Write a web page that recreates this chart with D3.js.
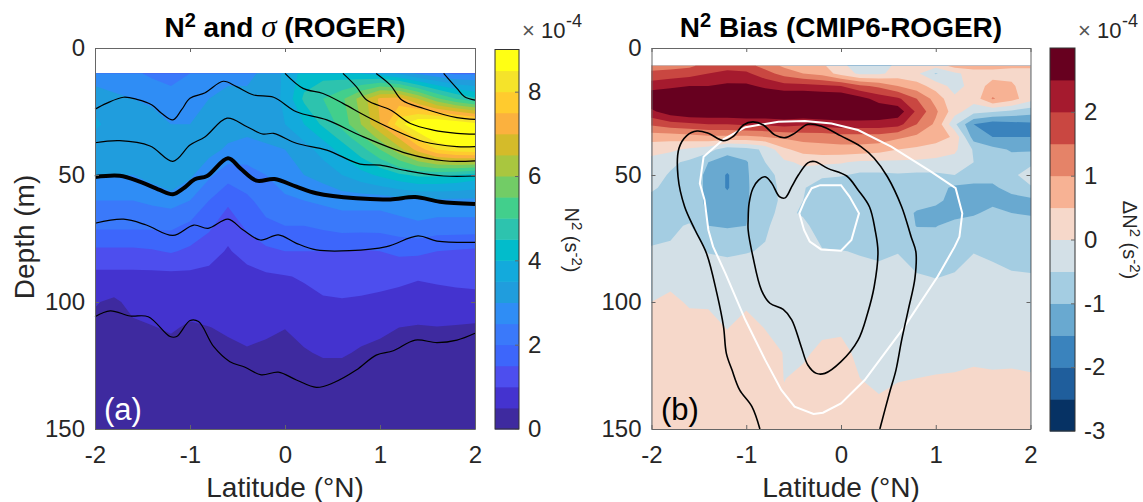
<!DOCTYPE html>
<html lang="en">
<head>
  <meta charset="UTF-8">
  <title>N2 and N2 bias (ROGER, CMIP6)</title>
  <script src="https://d3js.org/d3.v7.min.js"></script>
  <style>
    html, body { margin: 0; padding: 0; background: #fff; }
    svg { display: block; }
    text { font-family: "Liberation Sans", Arial, sans-serif; fill: #262626; }
    .axis path, .axis line { stroke: #666; stroke-width: 1; }
    .axis text { font-size: 24px; fill: #262626; font-family: "Liberation Sans", Arial, sans-serif; }
    .title { font-size: 28px; font-weight: bold; fill: #000; }
    .label { font-size: 28px; }
  </style>
</head>
<body>
  <script>
    // Grid columns, degrees north
    const lats = d3.range(21).map(i => -2 + i * 0.2);

    // N2 (1e-4 s-2), ROGER, one row per depth
    const depthsA = [10, 20, 30, 35, 40, 50, 60, 70, 80, 90, 100, 110, 120, 130, 140, 150];
    const n2Rows = [
      [2.7,2.7,2.6,2.4,2.3,2.5,2.8,2.9,2.9,3.1,3.6,4.2,4.3,4.2,4.0,3.8,3.4,2.9,2.6,2.4,2.4],
      [3.3,3.1,3.0,2.9,2.7,2.8,3.0,3.1,3.1,3.2,3.6,4.6,5.0,5.4,6.2,7.1,7.2,6.5,5.6,5.0,4.6],
      [3.6,3.3,3.2,3.2,3.0,3.0,3.2,3.2,3.2,3.3,3.5,4.0,4.6,5.2,6.0,7.0,8.3,9.0,9.2,9.0,8.7],
      [3.4,3.3,3.3,3.3,3.2,3.2,3.3,3.1,3.0,3.1,3.2,3.6,4.1,4.7,5.4,6.2,7.1,8.2,8.9,9.2,9.2],
      [3.2,3.2,3.3,3.2,3.3,3.2,3.2,2.9,2.8,2.9,3.0,3.3,3.7,4.2,4.8,5.5,6.3,7.2,8.0,8.3,8.4],
      [3.0,3.0,3.0,3.2,3.5,3.1,2.6,2.2,2.3,2.5,2.8,3.0,3.2,3.5,3.8,4.1,4.4,4.6,4.6,4.5,4.3],
      [2.5,2.5,2.5,2.6,2.7,2.5,2.0,1.6,1.9,2.2,2.4,2.5,2.6,2.7,2.7,2.7,2.8,2.9,2.9,2.9,2.9],
      [2.1,2.1,2.1,2.1,2.1,1.9,1.6,1.2,1.6,1.9,2.0,2.0,2.1,2.2,2.2,2.2,2.3,2.4,2.3,2.3,2.3],
      [1.4,1.4,1.4,1.45,1.55,1.4,1.2,0.95,1.2,1.4,1.5,1.5,1.5,1.5,1.45,1.5,1.6,1.6,1.5,1.45,1.4],
      [.85,.85,.85,.85,.85,.87,.85,.72,.82,.92,.97,1.05,1.2,1.3,1.3,1.25,1.15,1.05,1.1,1.15,1.2],
      [.53,.42,.63,.71,.75,.69,.74,.70,.78,.78,.74,.85,.93,.95,.90,.83,.78,.75,.78,.80,.80],
      [.4,.36,.42,.48,.55,.44,.49,.56,.62,.57,.51,.64,.74,.75,.65,.58,.5,.47,.49,.47,.44],
      [.3,.3,.3,.32,.35,.32,.35,.4,.46,.42,.38,.46,.55,.55,.45,.4,.35,.34,.34,.34,.32],
      [.25,.25,.25,.25,.25,.25,.25,.25,.25,.25,.25,.25,.3,.3,.25,.25,.25,.25,.25,.25,.25],
      [.2,.2,.2,.2,.2,.2,.2,.2,.2,.2,.2,.2,.2,.2,.2,.2,.2,.2,.2,.2,.2],
      [.15,.15,.15,.15,.15,.15,.15,.15,.15,.15,.15,.15,.15,.15,.15,.15,.15,.15,.15,.15,.15]
    ];
    const n2Levels = d3.range(18).map(i => i * 0.5);
    const n2Colors = ["#3e2a9f","#4433cf","#4d4eee","#3d66fb","#3a79fa","#2f8df5","#209ddd","#13aadc","#02bccb",
                      "#2dc3ae","#42cf8c","#72cc66","#a9c63f","#d4bb2a","#fbb13e","#ffcb2e","#f5e32a","#ffff14"];

    // N2 bias (1e-4 s-2), CMIP6 minus ROGER
    const depthsB = [7, 10, 15, 20, 25, 30, 35, 40, 45, 50, 55, 60, 65, 70, 80, 90, 100, 110, 120, 130, 140, 150];
    const biasRows = [
      [1.3,1.3,1.4,1.7,1.8,1.7,1.3,.9,.8,.6,.1,-.2,-.2,.1,.2,.2,.7,.8,.7,.6,.6],
      [1.6,1.7,1.8,2.0,2.15,2.1,1.7,1.3,1.0,.8,.3,-.1,-.1,.2,.1,-.55,-.1,.2,.3,.3,.3],
      [2.3,2.4,2.5,2.5,2.6,2.6,2.4,2.2,2.2,2.1,2.0,1.6,1.4,1.0,.7,.3,-.2,.2,.7,.6,.1],
      [2.9,3,3,3,3,3,3,3,3,3,3,2.7,2.3,2.1,1.5,.8,.1,.2,1.05,.7,.2],
      [2.4,2.8,3,3,3,3,3,3,3,3,3,3,2.9,2.8,1.9,1.1,.2,-.3,-.45,-.6,-.8],
      [1.6,1.8,1.9,2,2,2.1,2.1,2.2,2.1,2.2,2.3,2.3,2.3,2.2,1.5,.9,-.4,-1.5,-1.8,-1.7,-1.6],
      [.7,.7,.8,.9,.9,.9,1.0,1.1,1.2,1.2,1.3,1.3,1.3,1.1,.9,.8,.4,-1.25,-1.5,-1.5,-1.5],
      [.2,.1,-.1,-.3,-.8,-.7,-.4,.4,.7,.8,.8,.8,.7,.5,.4,.2,.1,-.55,-.85,-1.05,-1.05],
      [-.2,-.4,-.6,-1.0,-1.25,-1.05,-.5,-.1,.1,.1,.05,-.1,-.1,-.1,-.1,-.1,-.2,-.5,-.6,-.8,-.7],
      [-.3,-.55,-.75,-1.1,-1.55,-1.05,-.7,-.3,-.2,-.4,-.45,-.6,-.6,-.55,-.6,-.6,-.5,-.6,-.8,-.7,-.1],
      [-.4,-.7,-.75,-1.1,-1.55,-1.05,-.75,-.35,-.45,-.8,-.85,-.7,-.7,-.7,-.7,-.8,-1.1,-1.2,-1.1,-.8,-.6],
      [-.7,-.75,-.75,-1.1,-1.3,-1.05,-.7,-.4,-.5,-.8,-.85,-.7,-.65,-.7,-.8,-.9,-1.15,-1.1,-1.1,-1.2,-1.1],
      [-.7,-.7,-.7,-1.05,-1.25,-1.05,-.6,-.4,-.55,-.8,-.85,-.7,-.65,-.75,-1.05,-1.15,-1.15,-1.05,-.9,-1.0,-1.05],
      [-.65,-.6,-.45,-1.0,-1.05,-1.0,-.55,-.35,-.4,-.7,-.75,-.65,-.6,-.7,-1.02,-1.02,-.85,-.8,-.75,-.8,-.8],
      [-.46,-.43,-.32,-.52,-.54,-.52,-.47,-.3,-.44,-.47,-.49,-.52,-.54,-.51,-.62,-.66,-.6,-.51,-.55,-.6,-.62],
      [-.23,-.14,-.18,-.3,-.37,-.31,-.31,-.25,-.35,-.34,-.34,-.41,-.44,-.41,-.48,-.51,-.48,-.4,-.43,-.47,-.48],
      [0,.1,-.05,-.06,-.2,-.1,-.15,-.15,-.25,-.2,-.2,-.3,-.35,-.3,-.36,-.38,-.35,-.28,-.3,-.35,-.35],
      [.2,.3,.15,.15,-.02,.2,-.02,-.08,-.15,-.08,-.07,-.2,-.25,-.2,-.25,-.25,-.22,-.18,-.2,-.22,-.22],
      [.4,.4,.35,.3,.2,.3,.2,-.02,-.06,.08,.12,-.1,-.16,-.12,-.12,-.12,-.1,-.06,-.08,-.08,-.1],
      [.4,.4,.4,.4,.35,.4,.3,-.01,.08,.2,.25,0,-.05,-.02,0,.02,.03,.05,.04,.05,.03],
      [.4,.4,.4,.4,.4,.4,.4,.05,.2,.3,.3,.1,.03,.1,.1,.1,.1,.15,.12,.12,.12],
      [.4,.4,.4,.4,.4,.4,.4,.3,.3,.3,.3,.3,.3,.3,.3,.3,.3,.3,.3,.3,.3]
    ];
    const biasLevels = d3.range(12).map(i => -3 + i * 0.5);
    const biasColors = ["#063264","#1f5e9c","#3a83bd","#69a9d0","#a4cde2","#d3e0e7",
                        "#f6d8ca","#f7b294","#e58368","#c94741","#a51a2e","#67001f"];

    // Density contours on panel (a)
    const sigmaLines = [
      { width: 1.2, lat: [-2,-1.88,-1.7,-1.56,-1.4,-1.3,-1.18,-1.09,-1,-.84,-.65,-.51,-.33,-.12,.12,.44,.82,1.28,1.67,2],
        depth: [24.1,21.8,19.4,20.2,22.4,25.7,28.3,24.4,19.8,17.6,13.1,15.2,18.5,19.4,25.1,28.3,34.9,41.5,44.4,44.4] },
      { width: 1.2, lat: [0,.19,.4,.61,.86,1.11,1.46,1.81,2],
        depth: [10,15.9,17.9,21.8,27,31.6,36.9,38.8,38.8] },
      { width: 1.2, lat: [-2,-1.74,-1.42,-1.18,-1,-.84,-.61,-.4,-.23,-.12,.12,.44,.79,1,1.28,1.67,2],
        depth: [37.3,36.5,38.6,44.6,38.2,34.9,27.6,31,33.9,33.6,37.5,40.2,45.7,46.1,48.3,50.4,50.4] },
      { width: 1.2, lat: [.61,.75,.86,1.11,1.32,1.56,1.81,2],
        depth: [10,15.2,20.5,24.4,29.7,32.3,33.6,33.9] },
      { width: 1.2, lat: [.96,1.11,1.23,1.46,1.81,2],
        depth: [10,14.6,20.5,23.8,27.4,28.1] },
      { width: 1.2, lat: [1.67,1.81,1.89,2],
        depth: [10,15.9,19.2,20.5] },
      { width: 4, lat: [-2,-1.74,-1.53,-1.32,-1.18,-1.07,-.95,-.82,-.6,-.47,-.3,-.11,.12,.33,.75,1.11,1.37,1.63,2],
        depth: [50.8,50.3,52.6,55.9,57.6,55.3,51.7,50.4,43.4,47.4,52.2,51.6,54.6,57.2,59.2,59.6,58.7,60.5,61.4] },
      { width: 1.2, lat: [-2,-1.7,-1.46,-1.18,-.96,-.81,-.6,-.44,-.26,-.07,.12,.33,.68,1.07,1.4,1.6,2],
        depth: [69,67.4,69.7,73.8,69.7,71,67.4,71.7,75.6,73.6,76.9,79.5,79.8,78.2,74,76,76.5] },
      { width: 1.2, lat: [-2,-1.84,-1.63,-1.44,-1.21,-1.14,-1,-.91,-.75,-.58,-.42,-.25,-.07,.12,.33,.51,.75,.96,1.14,1.37,1.6,1.81,2],
        depth: [105.8,103.5,105.5,105.8,113.6,113.6,107.3,107.7,117.6,123.5,125.7,128.7,127.6,130.7,133.6,131.8,126.8,120.9,119.2,115,116,115,112.3] }
    ];

    // Black and white contours on panel (b)
    const blackOuterLat = [-.856,-.94,-1.07,-1.15,-1.21,-1.24,-1.31,-1.42,-1.54,-1.65,-1.72,-1.71,-1.63,-1.52,-1.4,-1.24,-1.14,-1.03,-.93,-.82,-.7,-.59,-.49,-.35,-.21,0,.21,.35,.49,.64,.74,.79,.78,.71,.64,.58,.51,.41];
    const blackOuterDepth = [150,141.2,134.6,126.8,120.2,109.7,96.6,80.8,71.65,62.5,50.7,39.5,34.6,32.7,33.6,36.5,34.9,30.3,29.1,30.3,34.2,35.3,33.6,30,30.7,34.6,38.8,43.4,50.7,62.5,74.3,80.2,90.7,103.1,115,126.8,136,150];
    const blackInnerLat = [-.97,-.93,-.87,-.8,-.73,-.65,-.59,-.52,-.45,-.35,-.28,-.14,.06,.18,.3,.36,.39,.35,.28,.18,0,-.17,-.26,-.35,-.42,-.52,-.61,-.75,-.84,-.93,-.98,-.98];
    const blackInnerDepth = [61.2,55.3,52,50.7,53.3,58.5,59,54.6,50,45.2,44.7,47.4,50.4,55.9,62.5,71.65,80.2,94,104.5,115,123.5,128.1,128.1,124.8,117.6,107,102.9,100.5,95.3,82.1,71.65,67.7];
    const whiteOuterLat = [-1.25,-1.01,-.66,-.38,-.1,.18,.53,.95,1.21,1.28,1.25,1.2,1.02,.67,.25,0,-.19,-.29,-.49,-.63,-.8,-1.01,-1.22,-1.35,-1.4,-1.44,-1.49,-1.45];
    const whiteOuterDepth = [36.2,31.2,29,28.7,29.7,32.3,38.8,48.7,55.2,65.1,74.3,78.2,90,109.7,130.7,139.9,143.6,144.1,141.2,134.6,122.8,107,88.7,78.2,71.65,59.8,53.3,42.8];
    const whiteInnerLat = [-.31,-.22,0,.09,.19,.14,.11,0,-.21,-.33,-.39,-.44,-.38];
    const whiteInnerDepth = [55.2,54,54,58.5,65.1,71.65,75.6,79.8,79.3,76.2,71.65,65.1,59.8];

    const depthTicks = [0, 50, 100, 150];
    const latTicks = [-2, -1, 0, 1, 2];

    const width = 1143;
    const height = 502;
    const svg = d3.select("body").append("svg")
      .attr("width", width)
      .attr("height", height);

    // Draws filled contours, returns the scales
    function drawPanel(box, depths, rows, levels, colors) {
      const x = d3.scaleLinear().domain([-2, 2]).range([box.left, box.right]);
      const y = d3.scaleLinear().domain([0, 150]).range([box.top, box.bottom]);
      const g = svg.append("g");

      // d3.contours puts sample i at i + 0.5, map that back to latitude and depth
      const colIndex = d3.scaleLinear().domain(lats.map((d, i) => i + 0.5)).range(lats).clamp(true);
      const rowIndex = d3.scaleLinear().domain(depths.map((d, i) => i + 0.5)).range(depths).clamp(true);
      const path = d3.geoPath(d3.geoTransform({
        point(px, py) { this.stream.point(x(colIndex(px)), y(rowIndex(py))); }
      }));

      const contours = d3.contours()
        .size([lats.length, depths.length])
        .smooth(true)
        .thresholds(levels)(rows.flat());

      // lowest band is everything that is left
      g.append("rect")
        .attr("x", x(-2)).attr("y", y(depths[0]))
        .attr("width", x(2) - x(-2)).attr("height", y(150) - y(depths[0]))
        .attr("fill", colors[0]);

      g.selectAll("path.fill")
        .data(contours.slice(1))
        .enter().append("path")
        .attr("class", "fill")
        .attr("d", path)
        .attr("fill", (d, i) => colors[i + 1]);

      return { x, y };
    }

    function drawAxes(box, x, y) {
      const g = svg.append("g");
      g.append("g").attr("class", "axis").attr("transform", `translate(0,${box.bottom})`)
        .call(d3.axisBottom(x).tickValues(latTicks).tickFormat(d => String(d)).tickSizeInner(-4).tickSizeOuter(0).tickPadding(17));
      g.append("g").attr("class", "axis").attr("transform", `translate(0,${box.top})`)
        .call(d3.axisTop(x).tickValues(latTicks).tickFormat("").tickSizeInner(-4).tickSizeOuter(0));
      g.append("g").attr("class", "axis").attr("transform", `translate(${box.left},0)`)
        .call(d3.axisLeft(y).tickValues(depthTicks).tickSizeInner(-4).tickSizeOuter(0).tickPadding(10));
      g.append("g").attr("class", "axis").attr("transform", `translate(${box.right},0)`)
        .call(d3.axisRight(y).tickValues(depthTicks).tickFormat("").tickSizeInner(-4).tickSizeOuter(0));
      g.selectAll(".domain").attr("stroke", "#777").attr("stroke-width", 1.5);
    }

    function drawColorbar(cb, levels, colors, step, ticks) {
      const c = d3.scaleLinear().domain([levels[0], levels[levels.length - 1] + step]).range([cb.bottom, cb.top]);
      svg.append("g").selectAll("rect")
        .data(levels)
        .enter().append("rect")
        .attr("x", cb.left)
        .attr("y", d => c(d + step))
        .attr("width", cb.right - cb.left)
        .attr("height", d => c(d) - c(d + step) + 0.5)
        .attr("fill", (d, i) => colors[i]);
      svg.append("rect")
        .attr("x", cb.left).attr("y", cb.top)
        .attr("width", cb.right - cb.left).attr("height", cb.bottom - cb.top)
        .attr("fill", "none").attr("stroke", "#333").attr("stroke-width", 1);
      svg.append("g").attr("class", "axis").attr("transform", `translate(${cb.right},0)`)
        .call(d3.axisRight(c).tickValues(ticks).tickFormat(d => String(d)).tickSizeInner(-4).tickSizeOuter(0).tickPadding(9))
        .select(".domain").remove();

      // x10^-4 above the bar
      const mult = svg.append("text").attr("y", 38).style("font-size", "22px");
      mult.append("tspan").text("\u00d7").attr("x", cb.right + 3).style("fill", "#555");
      mult.append("tspan").text("10").attr("x", cb.right + 22);
      mult.append("tspan").text("-4").attr("x", cb.right + 47).attr("dy", -11).style("font-size", "18px");
    }

    function linePath(x, y, curve) {
      return d3.line().x(d => x(d[0])).y(d => y(d[1])).curve(curve);
    }

    function rotatedLabel(px, py, delta) {
      const t = svg.append("text")
        .attr("transform", `translate(${px},${py}) rotate(90)`)
        .attr("text-anchor", "middle")
        .style("font-size", "20px");
      t.append("tspan").text(delta + "N");
      t.append("tspan").text("2").attr("dy", -7).style("font-size", "15px");
      t.append("tspan").text(" (s").attr("dy", 7);
      t.append("tspan").text("-2").attr("dy", -7).style("font-size", "15px");
      t.append("tspan").text(")").attr("dy", 7);
    }

    function title(px, parts) {
      const t = svg.append("text").attr("class", "title").attr("x", px).attr("y", 37).attr("text-anchor", "middle");
      t.append("tspan").text("N");
      t.append("tspan").text("2").attr("dy", -10).style("font-size", "20px");
      parts(t);
    }

    function xLabel(px) {
      svg.append("text").attr("class", "label").attr("x", px).attr("y", 497).attr("text-anchor", "middle").text("Latitude (\u00b0N)");
    }

    // Panel (a)
    const boxA = { left: 95, right: 475, top: 48, bottom: 429 };
    const a = drawPanel(boxA, depthsA, n2Rows, n2Levels, n2Colors);
    const sigmaGroup = svg.append("g").attr("fill", "none").attr("stroke", "#000");
    sigmaLines.forEach(line => {
      sigmaGroup.append("path")
        .datum(d3.zip(line.lat, line.depth))
        .attr("stroke-width", line.width)
        .attr("d", linePath(a.x, a.y, d3.curveCatmullRom));
    });
    drawAxes(boxA, a.x, a.y);
    drawColorbar({ left: 495, right: 519, top: 49.5, bottom: 429 }, n2Levels, n2Colors, 0.5, [0, 2, 4, 6, 8]);
    rotatedLabel(565, 240, "");
    title(285, t => {
      t.append("tspan").text(" and ").attr("dy", 10);
      t.append("tspan").text("\u03c3").style("font-family", "'Liberation Serif', serif").style("font-style", "italic").style("font-weight", "normal").style("font-size", "31px");
      t.append("tspan").text(" (ROGER)");
    });
    xLabel(285);
    svg.append("text").attr("class", "label").attr("transform", "translate(34,237) rotate(-90)").attr("text-anchor", "middle").text("Depth (m)");
    svg.append("text").attr("x", 104).attr("y", 420).style("font-size", "31px").style("fill", "#fff").text("(a)");

    // Panel (b)
    const boxB = { left: 651.5, right: 1030.5, top: 48, bottom: 429 };
    const b = drawPanel(boxB, depthsB, biasRows, biasLevels, biasColors);
    const loops = svg.append("g").attr("fill", "none");
    loops.append("path").datum(d3.zip(whiteOuterLat, whiteOuterDepth)).attr("stroke", "#fff").attr("stroke-width", 2)
      .attr("d", linePath(b.x, b.y, d3.curveLinearClosed));
    loops.append("path").datum(d3.zip(whiteInnerLat, whiteInnerDepth)).attr("stroke", "#fff").attr("stroke-width", 2)
      .attr("d", linePath(b.x, b.y, d3.curveLinearClosed));
    loops.append("path").datum(d3.zip(blackOuterLat, blackOuterDepth)).attr("stroke", "#000").attr("stroke-width", 1.6)
      .attr("d", linePath(b.x, b.y, d3.curveCatmullRom));
    loops.append("path").datum(d3.zip(blackInnerLat, blackInnerDepth)).attr("stroke", "#000").attr("stroke-width", 1.6)
      .attr("d", linePath(b.x, b.y, d3.curveCatmullRomClosed));
    drawAxes(boxB, b.x, b.y);
    drawColorbar({ left: 1050, right: 1075, top: 48, bottom: 431 }, biasLevels, biasColors, 0.5, [-3, -2, -1, 0, 1, 2]);
    rotatedLabel(1123, 240, "\u0394");
    title(841, t => {
      t.append("tspan").text(" Bias (CMIP6-ROGER)").attr("dy", 10);
    });
    xLabel(841);
    svg.append("text").attr("x", 661).attr("y", 420).style("font-size", "31px").style("fill", "#000").text("(b)");
  </script>
</body>
</html>
